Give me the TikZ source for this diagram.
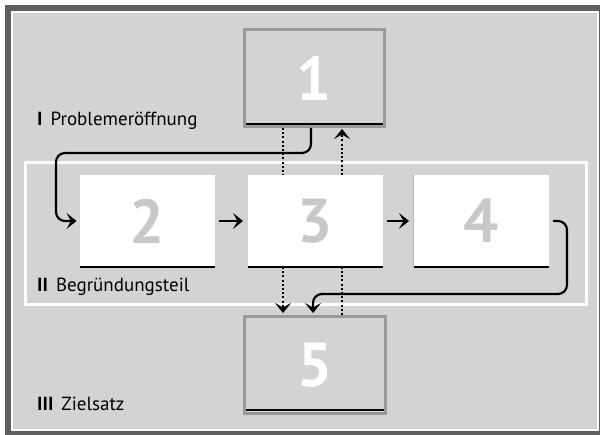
\documentclass[tikz,border=0pt]{standalone}
\usepackage{fontspec}
\setmainfont{PT Sans}
\usetikzlibrary{arrows.meta,calc}
\definecolor{bggray}{HTML}{D3D3D3}
\definecolor{framedark}{HTML}{5E5E5E}
\definecolor{boxedge}{HTML}{9A9A9A}
\definecolor{digitgray}{HTML}{C8C8C8}
\definecolor{edgeline}{HTML}{B8B8B8}

\begin{document}
\begin{tikzpicture}[x=1pt,y=-1pt,
  greybox/.style={draw=boxedge, line width=3pt, fill=bggray, inner sep=0pt,
    minimum width=140pt, minimum height=97pt, text=white,
    font=\fontsize{62}{62}\selectfont\bfseries},
  whitebox/.style={fill=white, draw=none, inner sep=0pt, outer sep=0pt,
    minimum width=135pt, minimum height=92pt, text=digitgray,
    font=\fontsize{62}{62}\selectfont\bfseries},
  secframe/.style={draw=white, line width=3pt, inner sep=0pt,
    minimum width=561pt, minimum height=142.5pt},
  underline/.style={line width=1.3pt, black},
  tip/.style={-{Stealth[length=10pt,width=16pt,inset=4.5pt]}},
  flow/.style={line width=2.2pt, rounded corners=9pt, tip},
  dots/.style={line width=2pt, dash pattern=on 2pt off 2.2pt},
  dotarrow/.style={dots, tip},
  phase/.style={anchor=base west, inner sep=0pt,
    font=\fontsize{19}{21}\selectfont}
]
\useasboundingbox (0,0) rectangle (600,435);

% outer frame
\fill[white] (0,0) rectangle (600,435);
\fill[framedark] (5,5) rectangle (600,435);
\fill[white] (11,11) rectangle (599,431);
\fill[bggray] (13,13) rectangle (597,429);

% section II frame
\node[secframe] (sec) at (305.5,233.75) {};

% boxes
\node[greybox] (b1) at (314.5,78) {1};
\node[whitebox] (b2) at (147,221) {2};
\node[whitebox] (b3) at (315.5,221) {3};
\node[whitebox] (b4) at (481.5,221) {4};
\node[greybox, minimum width=141pt] (b5) at (315,365) {5};

% rules along the lower edges
\draw[underline] ([shift={(3,-4)}]b1.south west) -- ([shift={(-3,-4)}]b1.south east);
\draw[underline] ([shift={(3,-5)}]b5.south west) -- ([shift={(-3,-5)}]b5.south east);
\draw[underline] (b2.south west) -- (b2.south east);
\draw[underline] (b3.south west) -- (b3.south east);
\draw[underline] (b4.south west) -- (b4.south east);
\draw[edgeline, line width=0.8pt] ([xshift=-1pt]b4.north west) -- ([xshift=-1pt]b4.south west);

% phase labels
\node[phase] (l1) at (37,126) {\textbf{I}\hspace{8pt}Problemeröffnung};
\node[phase] (l2) at (37,292) {\textbf{II}\hspace{8pt}Begründungsteil};
\node[phase] (l3) at (37,411) {\textbf{III}\hspace{8pt}Zielsatz};

% helper columns for the dotted links
\coordinate (dl) at (283,0);
\coordinate (dr) at (342,0);
\coordinate (lc) at (56,0);
\coordinate (rc) at (567,0);
\coordinate (top) at (0,153);
\coordinate (bot) at (0,294);
\coordinate (in5) at (313,0);

% dotted links
\draw[dots] (b1.south -| dl) -- (b3.north -| dl);
\draw[dotarrow, shorten >=1pt] (b3.north -| dr) -- (b1.south -| dr);
\draw[dotarrow, shorten >=2pt] (b3.south -| dl) -- (b5.north -| dl);
\draw[dots] (b5.north -| dr) -- (b3.south -| dr);

% main flow
\draw[flow, shorten >=3pt] ([xshift=-3.5pt]b1.south) -- ([xshift=-3.5pt]b1.south |- top)
  -| (lc |- b2.west) -- (b2.west);
\draw[flow, shorten <=4pt, shorten >=5pt] (b2.east) -- (b3.west);
\draw[flow, shorten <=4pt, shorten >=5pt] (b3.east) -- (b4.west);
\draw[flow, shorten >=2pt] ([xshift=4pt]b4.east) -- (rc |- b4.east) -- (rc |- bot)
  -- (in5 |- bot) -- (in5 |- b5.north);
\end{tikzpicture}
\end{document}
